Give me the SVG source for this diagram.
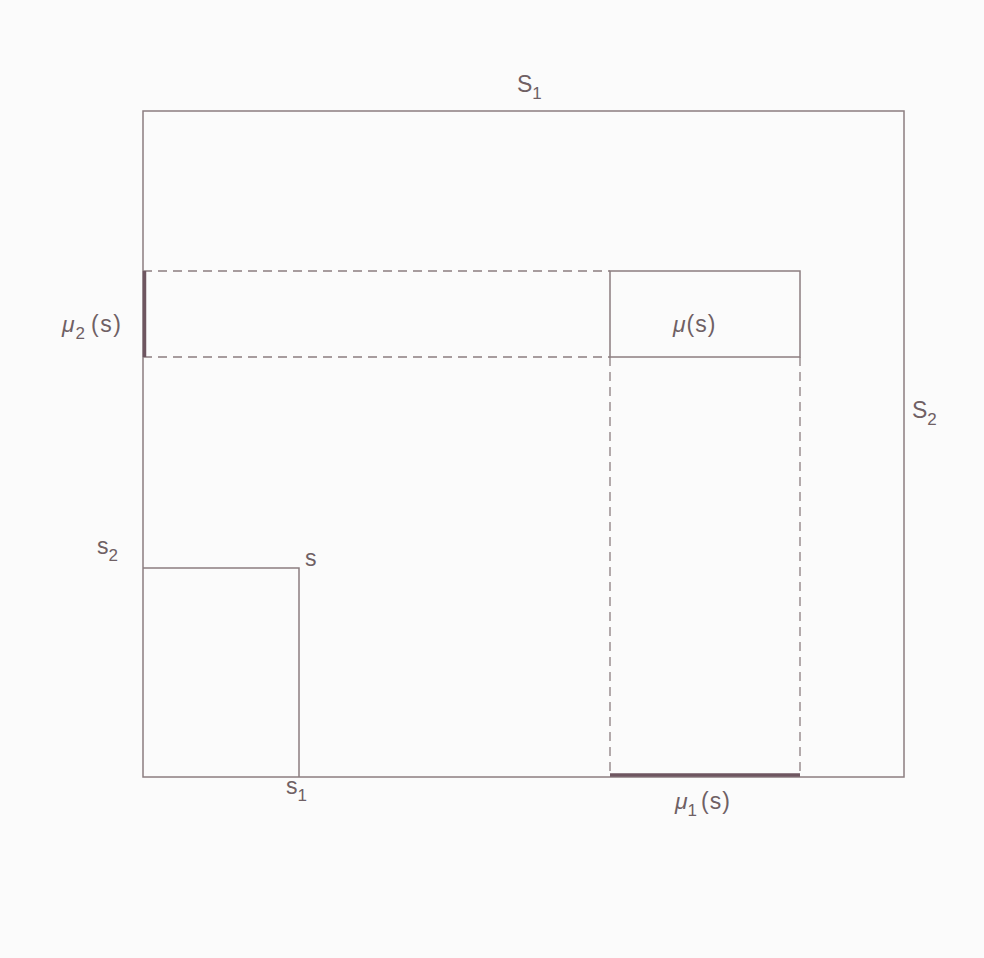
<svg xmlns="http://www.w3.org/2000/svg" width="984" height="958" viewBox="0 0 984 958">
<style>
.ln{fill:none;stroke:#8c7e80;stroke-width:1.5}
.ds{fill:none;stroke:#8c7e80;stroke-width:1.3;stroke-dasharray:9 6}
.th{stroke:#6e5660;stroke-width:3.5}
text{font-family:"Liberation Sans","DejaVu Sans",sans-serif;fill:#6f6064;font-size:23px}
.sub{font-size:17px}
</style>
<rect width="984" height="958" fill="#fbfbfb"/>
<g id="outer"><rect class="ln" x="143" y="111" width="761" height="666"/></g>
<g id="connectors">
<path class="ds" d="M143 271H610M143 357H610"/>
<path class="ds" d="M610 357V777M800 357V777"/>
<line class="th" x1="144.5" y1="271" x2="144.5" y2="357"/>
<line class="th" x1="610" y1="775" x2="800" y2="775"/>
</g>
<g id="mu"><rect class="ln" x="610" y="271" width="190" height="86"/><text x="673" y="332" font-style="italic" letter-spacing="1">μ<tspan font-style="normal">(s)</tspan></text></g>
<g id="s-rect"><path class="ln" d="M143 568H299V777"/></g>
<g id="labels">
<text x="517" y="92">S<tspan class="sub" dy="7">1</tspan></text>
<text x="912" y="418">S<tspan class="sub" dy="7">2</tspan></text>
<text x="62" y="332" font-style="italic" font-size="25">μ<tspan class="sub" dy="7" dx="1" font-style="normal" font-size="18">2</tspan><tspan dy="-7" dx="6" font-style="normal" letter-spacing="1.5">(s)</tspan></text>
<text x="97" y="554">s<tspan class="sub" dy="7">2</tspan></text>
<text x="305" y="566">s</text>
<text x="286" y="794">s<tspan class="sub" dy="7">1</tspan></text>
<text x="675" y="809" font-style="italic">μ<tspan class="sub" dy="7" font-style="normal">1</tspan><tspan dy="-7" dx="4" font-style="normal" letter-spacing="1">(s)</tspan></text>
</g>
</svg>
